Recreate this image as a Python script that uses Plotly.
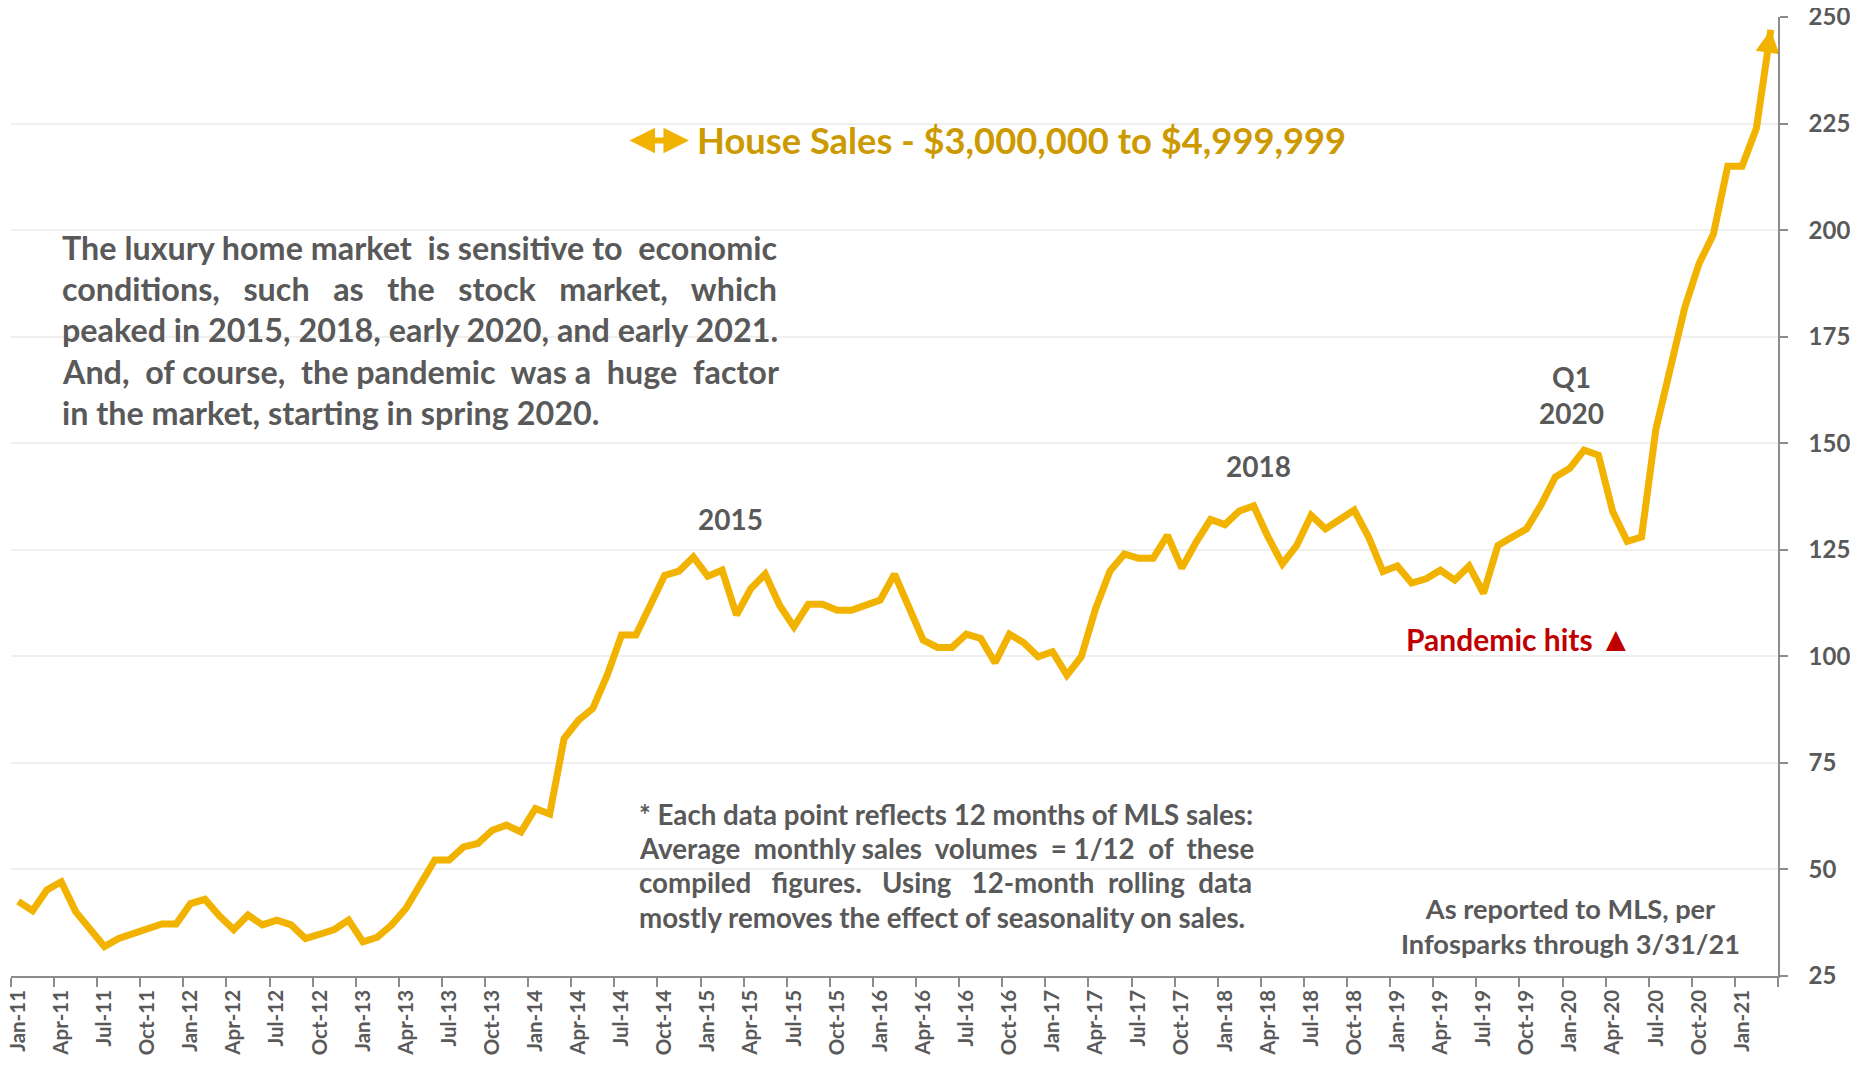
import math
from itertools import zip_longest
import plotly.graph_objects as go

# ---------------- data ----------------
MONTHS = ["Jan", "Feb", "Mar", "Apr", "May", "Jun", "Jul", "Aug", "Sep", "Oct", "Nov", "Dec"]
YEARS = ["11", "12", "13", "14", "15", "16", "17", "18", "19", "20", "21"]

sales_2011 = [42.5, 40.3, 45.2, 47.1, 40.1, 36.3, 31.9, 33.8, 35.0, 35.9, 37.2, 37.2]
sales_2012 = [42.0, 43.0, 39.1, 35.9, 39.3, 37.0, 38.1, 37.0, 33.8, 34.8, 35.9, 38.1]
sales_2013 = [33.0, 34.1, 37.0, 40.9, 46.7, 52.2, 52.2, 55.3, 56.1, 59.2, 60.4, 58.8]
sales_2014 = [64.3, 63.0, 80.7, 85.0, 87.8, 95.6, 105.0, 105.0, 112.0, 119.0, 120.0, 123.3]
sales_2015 = [118.8, 120.2, 109.7, 115.9, 119.3, 112.0, 106.9, 112.2, 112.2, 110.8, 110.8, 112.2]
sales_2016 = [113.2, 119.3, 111.2, 103.8, 102.1, 102.1, 105.2, 104.2, 98.5, 105.2, 103.2, 99.9]
sales_2017 = [101.1, 95.6, 99.9, 111.2, 120.0, 124.0, 123.0, 123.0, 128.4, 120.7, 126.8, 132.1]
sales_2018 = [130.9, 134.1, 135.3, 128.0, 121.7, 126.0, 133.1, 129.9, 132.1, 134.3, 128.0, 119.9]
sales_2019 = [121.2, 117.2, 118.2, 120.2, 117.9, 121.2, 114.8, 126.0, 128.0, 129.9, 135.5, 142.1]
sales_2020 = [144.1, 148.4, 147.2, 133.9, 127.0, 128.0, 153.3, 167.0, 181.7, 192.1, 199.0, 215.0]
sales_2021 = [215.0, 223.9, 247.0]

values = (sales_2011 + sales_2012 + sales_2013 + sales_2014 + sales_2015 + sales_2016
          + sales_2017 + sales_2018 + sales_2019 + sales_2020 + sales_2021)
categories = [f"{m}-{y}" for y in YEARS for m in MONTHS][:len(values)]
x_idx = list(range(len(values)))

tick_step = 3
tick_vals = x_idx[::tick_step]
tick_text = categories[::tick_step]

Y_MIN, Y_MAX = 25, 250
Y_TICKS = [25, 50, 75, 100, 125, 150, 175, 200, 225, 250]

LEGEND_TEXT = "House Sales - $3,000,000 to $4,999,999"

# text lines, with extra (non-breaking) spaces per word gap to mimic justification
PARA_LINES = [
    ("The luxury home market is sensitive to economic", [0, 0, 0, 1, 0, 0, 1]),
    ("conditions, such as the stock market, which", [2, 2, 2, 2, 2, 2]),
    ("peaked in 2015, 2018, early 2020, and early 2021.", [0] * 8),
    ("And, of course, the pandemic was a huge factor", [1, 0, 1, 0, 1, 0, 1, 1]),
    ("in the market, starting in spring 2020.", [0] * 6),
]
NOTE_LINES = [
    ("* Each data point reflects 12 months of MLS sales:", [0] * 9),
    ("Average monthly sales volumes = 1/12 of these", [1, 0, 1, 1, 0, 1, 1]),
    ("compiled figures. Using 12-month rolling data", [2, 2, 2, 1, 1]),
    ("mostly removes the effect of seasonality on sales.", [0] * 7),
]

# ---------------- style ----------------
LINE = "#F2B200"
GOLD_TXT = "#CC9A00"
GRAY = "#595959"
AXIS = "#8C8C8C"
GRID = "#EFEFEF"
RED = "#C00000"
FONT = "Lato"

# page-pixel geometry of the plot area (page coords incl. 8px body margin)
PL, PR, PT, PB = 11, 1778, 16.5, 976
FIG_W, FIG_H = 1842, 1055


def fx(X):
    return (X - PL) / (PR - PL)


def fy(Y):
    return (PB - Y) / (PB - PT)


def justify(line, extra):
    words = line.split(" ")
    out = words[0]
    for w, k in zip_longest(words[1:], extra, fillvalue=0):
        if isinstance(w, int):
            break
        out += " " + "\u00a0" * k + w
    return out


n = len(values)
fig = go.Figure()

ARROW_LEN, ARROW_W = 23, 24
fig.add_trace(go.Scatter(
    x=x_idx, y=values, mode="lines",
    line=dict(color=LINE, width=7, backoff=[0] * (n - 1) + [ARROW_LEN - 4]),
    hoverinfo="skip", showlegend=False,
))

# arrow head at the last point, built from the last segment's direction
px_per_x = (PR - PL) / n
px_per_y = (PB - PT) / (Y_MAX - Y_MIN)
dxp = (x_idx[-1] - x_idx[-2]) * px_per_x
dyp = (values[-1] - values[-2]) * px_per_y
norm = math.hypot(dxp, dyp)
ux, uy = dxp / norm, dyp / norm
nx, ny = -uy, ux
bx, by = -ux * ARROW_LEN, -uy * ARROW_LEN
c1 = (bx + nx * ARROW_W / 2, by + ny * ARROW_W / 2)
c2 = (bx - nx * ARROW_W / 2, by - ny * ARROW_W / 2)


def to_data(p):
    return x_idx[-1] + p[0] / px_per_x, values[-1] + p[1] / px_per_y


t = (x_idx[-1], values[-1])
a1, a2 = to_data(c1), to_data(c2)
arrow_path = f"M{t[0]},{t[1]} L{a1[0]},{a1[1]} L{a2[0]},{a2[1]} Z"

# white boxes that hide grid lines behind texts
boxes = [
    (604, 105, 1375, 176),   # legend
    (41, 213, 796, 448),     # paragraph
    (1195, 436, 1323, 496),  # 2018
    (619, 790, 1275, 945),   # footnote
]
shapes = []
for (x0, y0, x1, y1) in boxes:
    shapes.append(dict(type="rect", xref="paper", yref="paper",
                       x0=fx(x0), x1=fx(x1), y0=fy(y1), y1=fy(y0),
                       fillcolor="white", line=dict(width=0), layer="between"))
shapes.append(dict(type="path", xref="x", yref="y", path=arrow_path,
                   fillcolor=LINE, line=dict(width=0), layer="above"))


def txt(X, Y, text, size, color=GRAY, xanchor="center", align="center"):
    return dict(x=fx(X), y=fy(Y), xref="paper", yref="paper", text=text,
                showarrow=False, xanchor=xanchor, yanchor="middle", align=align,
                font=dict(family=FONT, size=size, color=color, weight="bold"))


annotations = [
    txt(695, 140, LEGEND_TEXT, 36.3, GOLD_TXT, "left", "left"),
    txt(1570, 926, "As reported to MLS, per<br>Infosparks through 3/31/21", 27.2),
    txt(730, 519, "2015", 28),
    txt(1258, 466, "2018", 28),
    txt(1571, 395, "Q1<br>2020", 28),
    txt(1404, 639, "Pandemic hits", 30, RED, "left", "left"),
    txt(1616, 637, "\u25B2", 34, RED),
    # legend symbol (double arrow)
    dict(x=fx(689), y=fy(140), xref="paper", yref="paper", text="",
         showarrow=True, ax=-61, ay=0, arrowside="end+start", arrowhead=2,
         arrowsize=0.85, arrowwidth=6, arrowcolor=LINE),
]

para_y = [247.7, 289.1, 330.6, 372.1, 413.6]
for (line, extra), Y in zip(PARA_LINES, para_y):
    annotations.append(txt(60, Y - 1, justify(line, extra), 32.3, GRAY, "left", "left"))

note_y = [814.1, 848.5, 882.8, 917.2]
for (line, extra), Y in zip(NOTE_LINES, note_y):
    annotations.append(txt(637, Y, justify(line, extra), 27.7, GRAY, "left", "left"))

fig.update_layout(
    width=FIG_W, height=FIG_H,
    margin=dict(l=PL - 8, r=(8 + FIG_W) - PR, t=PT - 8, b=(8 + FIG_H) - PB, pad=0,
                autoexpand=False),
    paper_bgcolor="white", plot_bgcolor="white",
    shapes=shapes, annotations=annotations,
    showlegend=False,
    xaxis=dict(
        range=[-0.5, n - 0.5], tickmode="array", tickvals=tick_vals, ticktext=tick_text,
        tickangle=-90, ticks="", showgrid=False, zeroline=False, automargin=False,
        showline=True, linecolor=AXIS, linewidth=1.5,
        tickfont=dict(family=FONT, size=20.5, color=GRAY, weight="bold"),
        ticklabelstandoff=4, ticklabeloverflow="allow",
        minor=dict(tickmode="linear", tick0=-0.5, dtick=tick_step, ticks="outside",
                   ticklen=9, tickwidth=1.5, tickcolor=AXIS, showgrid=False),
    ),
    yaxis=dict(
        side="right", range=[Y_MIN, Y_MAX], tickmode="array", tickvals=Y_TICKS,
        ticks="outside", ticklen=8, tickwidth=1.5, tickcolor=AXIS, automargin=False,
        showline=True, linecolor=AXIS, linewidth=1.5,
        showgrid=True, gridcolor=GRID, gridwidth=1.5, zeroline=False,
        tickfont=dict(family=FONT, size=24, color=GRAY, weight="bold"),
        ticklabelstandoff=16, ticklabeloverflow="allow",
    ),
)

fig.write_html("out.html")
